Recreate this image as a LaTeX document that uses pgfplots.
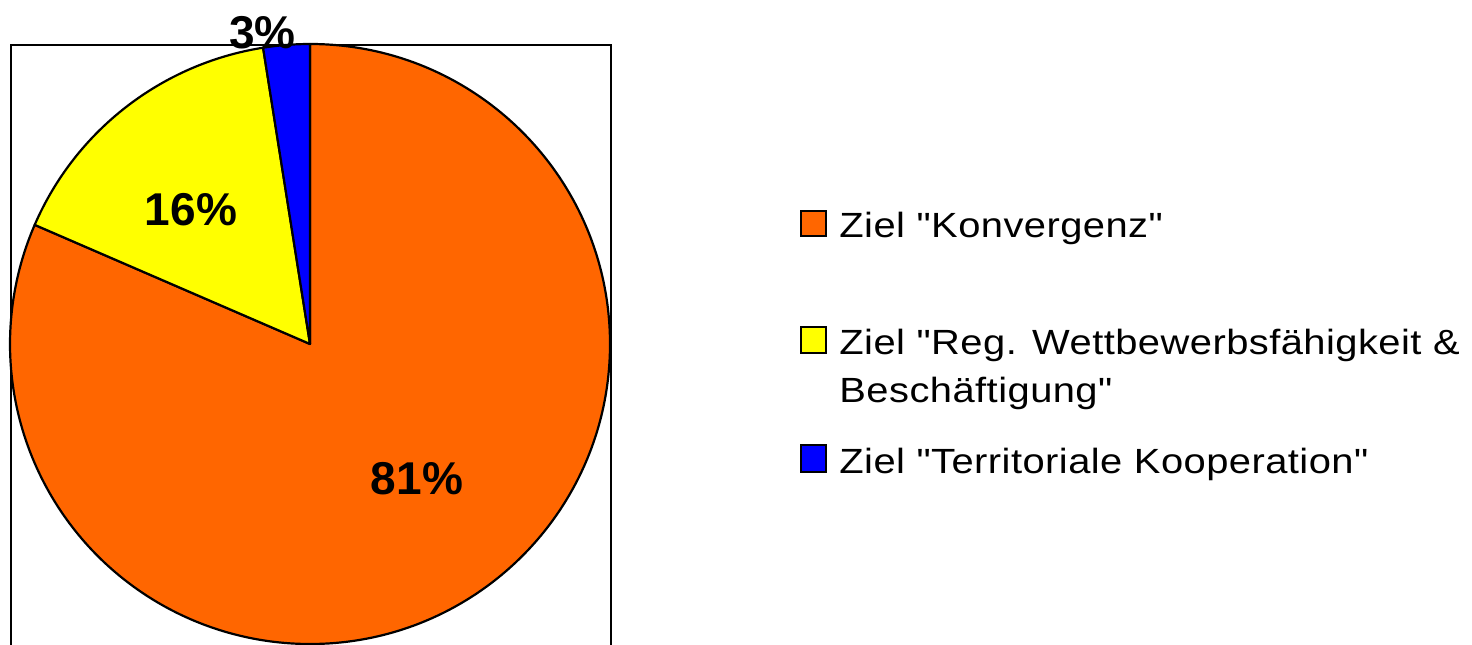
\documentclass[border=0pt]{standalone}
\usepackage{pgfplots}
\pgfplotsset{compat=1.18}
\usepackage{pgfplotstable}
\usepackage{fontspec}
\setmainfont{Liberation Sans}
\newfontfamily\legfont[FakeStretch=1.14,LetterSpace=1.3]{Liberation Sans}
\definecolor{pieorange}{RGB}{255,102,0}
\definecolor{pieyellow}{RGB}{255,255,0}
\definecolor{pieblue}{RGB}{0,0,255}
% shares in percent: Konvergenz, Reg. Wettbewerbsfaehigkeit, Territoriale Kooperation
\pgfplotstableread{
share
81.5
16.0
2.5
}\piedata
\begin{document}
\begin{tikzpicture}
\pgfplotstablegetelem{0}{share}\of\piedata \let\sA\pgfplotsretval
\pgfplotstablegetelem{1}{share}\of\piedata \let\sB\pgfplotsretval
\pgfplotstablegetelem{2}{share}\of\piedata \let\sC\pgfplotsretval
\pgfmathsetmacro\dA{-3.6*\sA}
\pgfmathsetmacro\dB{-3.6*\sB}
\pgfmathsetmacro\dC{-3.6*\sC}
\pgfmathsetmacro\aB{90+\dA}
\pgfmathsetmacro\aC{\aB+\dB}
\begin{axis}[width=736pt,height=322pt,scale only axis,hide axis,
  xmin=0,xmax=1472,ymin=0,ymax=644,clip=true]
% frame
\draw[line width=1.15pt] (axis cs:11,-20) rectangle (axis cs:611,599);
% slices
\filldraw[fill=pieorange,line width=1.1pt,line join=round]
  (axis cs:310,300) -- ++(90:150pt) arc[start angle=90,delta angle=\dA,radius=150pt] -- cycle;
\filldraw[fill=pieyellow,line width=1.1pt,line join=round]
  (axis cs:310,300) -- ++(\aB:150pt) arc[start angle=\aB,delta angle=\dB,radius=150pt] -- cycle;
\filldraw[fill=pieblue,line width=1.1pt,line join=round]
  (axis cs:310,300) -- ++(\aC:150pt) arc[start angle=\aC,delta angle=\dC,radius=150pt] -- cycle;
% labels
\node[inner sep=0,font=\fontsize{23}{27}\selectfont\bfseries] at (axis cs:417,165) {81\%};
\node[inner sep=0,font=\fontsize{23}{27}\selectfont\bfseries] at (axis cs:191,434) {16\%};
\node[inner sep=0,font=\fontsize{23}{27}\selectfont\bfseries] at (axis cs:262.5,611) {3\%};
% legend
\filldraw[fill=pieorange,line width=0.8pt] (axis cs:801,408) rectangle (axis cs:826,433);
\filldraw[fill=pieyellow,line width=0.8pt] (axis cs:801,291) rectangle (axis cs:826,317);
\filldraw[fill=pieblue,line width=0.8pt] (axis cs:801,172) rectangle (axis cs:826,199);
\node[anchor=base west,inner sep=0,font=\legfont\fontsize{17.5}{21}\selectfont] at (axis cs:839,407) {Ziel "Konvergenz"};
\node[anchor=base west,inner sep=0,font=\legfont\fontsize{17.5}{21}\selectfont] at (axis cs:839,290) {Ziel "Reg. Wettbewerbsfähigkeit \&};
\node[anchor=base west,inner sep=0,font=\legfont\fontsize{17.5}{21}\selectfont] at (axis cs:839,242) {Beschäftigung"};
\node[anchor=base west,inner sep=0,font=\legfont\fontsize{17.5}{21}\selectfont] at (axis cs:839,171) {Ziel "Territoriale Kooperation"};
\end{axis}
\pgfresetboundingbox
\path[use as bounding box] (current axis.south west) rectangle (current axis.north east);
\end{tikzpicture}
\end{document}
